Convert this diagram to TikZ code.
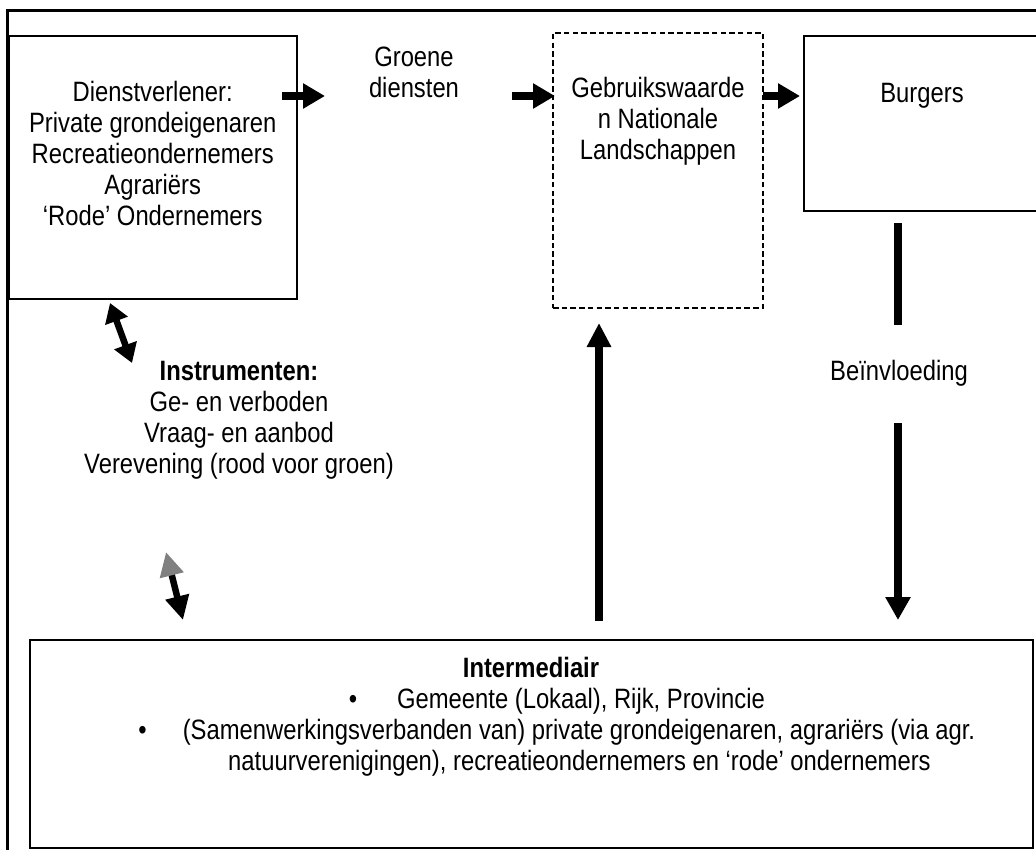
\documentclass[tikz,border=0pt]{standalone}
\usepackage{fontspec}
\setmainfont{Liberation Sans}[FakeStretch=0.85]
\usetikzlibrary{arrows.meta,calc}
\begin{document}
\begin{tikzpicture}[x=1pt,y=-1pt,
  every node/.style={font=\fontsize{28}{31}\selectfont},
  box/.style={draw,line width=2.2pt,inner sep=0pt},
  dbox/.style={draw,line width=1.9pt,inner sep=0pt,dash pattern=on 5.5pt off 3.2pt},
  txt/.style={inner sep=0pt,anchor=base},
  frameline/.style={line width=2.2pt},
  fat/.style={line width=7.5pt,-{Triangle[length=22pt,width=24pt]}},
  bar/.style={line width=7.5pt},
  dbl/.style={line width=6.5pt,{Triangle[length=19pt,width=23pt]}-{Triangle[length=19pt,width=23pt]}},
  dblg/.style={line width=6.5pt,{Triangle[length=24pt,width=23pt,color=gray]}-{Triangle[length=24pt,width=23pt]}}
]
\clip (0,0) rectangle (1036,850);
\fill[white] (0,0) rectangle (1036,850);

% outer frame
\draw[frameline] (7.5,852) -- (7.5,10.5) -- (1040,10.5);

% boxes
\node[box,minimum width=288.5pt,minimum height=263pt] (dienst) at (152.75,167.5) {};
\node[dbox,minimum width=210pt,minimum height=275pt] (gebruik) at (658,170.5) {};
\node[box,minimum width=236pt,minimum height=175pt] (burgers) at (922,123.5) {};
\node[box,minimum width=1003pt,minimum height=208pt] (inter) at (531.5,744) {};

% texts
\node[txt] (d1) at (152.75,102) {Dienstverlener:};
\node[txt] (d2) at (152.75,133) {Private grondeigenaren};
\node[txt] (d3) at (152.75,164) {Recreatieondernemers};
\node[txt] (d4) at (152.75,195) {Agrariërs};
\node[txt] (d5) at (152.75,226) {‘Rode’ Ondernemers};

\node[txt] (g1) at (414,67) {Groene};
\node[txt] (g2) at (414,98) {diensten};

\node[txt] (w1) at (658,98) {Gebruikswaarde};
\node[txt] (w2) at (658,129) {n Nationale};
\node[txt] (w3) at (658,160) {Landschappen};

\node[txt] (bt) at (922,103) {Burgers};
\node[txt] (bein) at (899,380) {Beïnvloeding};

\node[txt] (i1) at (239,380) {\bfseries Instrumenten:};
\node[txt] (i2) at (239,411) {Ge- en verboden};
\node[txt] (i3) at (239,442) {Vraag- en aanbod};
\node[txt] (i4) at (239,473) {Verevening (rood voor groen)};

\node[txt] (m0) at (531,677) {\bfseries Intermediair};
\node[txt] (m1) at (581,708) {Gemeente (Lokaal), Rijk, Provincie};
\node[txt] (m2) at (579,739) {(Samenwerkingsverbanden van) private grondeigenaren, agrariërs (via agr.};
\node[txt] (m3) at (579.5,770) {natuurverenigingen), recreatieondernemers en ‘rode’ ondernemers};
\node[txt] (b1) at ($(m1.base west)+(-44,0)$) {•};
\node[txt] (b2) at ($(m2.base west)+(-40,0)$) {•};

% connector end points
\coordinate (a1s) at (282,96);  \coordinate (a1e) at (325,96);
\coordinate (a2s) at (512,96);  \coordinate (a2e) at (555,96);
\coordinate (a3s) at (763,96);  \coordinate (a3e) at (800,96);
\coordinate (ups) at (599,621); \coordinate (upe) at (599,323);
\coordinate (bas) at (898,223); \coordinate (bae) at (898,325);
\coordinate (bbs) at (898,423); \coordinate (bbe) at (898,620);
\coordinate (c1s) at (110,303); \coordinate (c1e) at (132,363);
\coordinate (c2s) at (166,552); \coordinate (c2e) at (183,620);

% connectors
\draw[fat] (a1s) -- (a1e);
\draw[fat] (a2s) -- (a2e);
\draw[fat] (a3s) -- (a3e);
\draw[line width=7.5pt,-{Triangle[length=24pt,width=23pt]}] (ups) -- (upe);
\draw[bar] (bas) -- (bae);
\draw[line width=7.5pt,-{Triangle[length=23pt,width=24pt]}] (bbs) -- (bbe);
\draw[dbl] (c1s) -- (c1e);
\draw[dblg] (c2s) -- (c2e);
\end{tikzpicture}
\end{document}
